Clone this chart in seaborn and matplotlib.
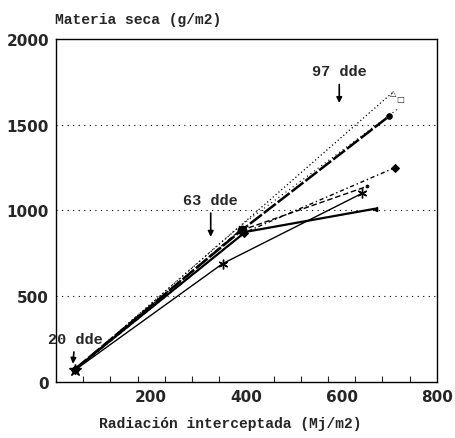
import numpy as np
import pandas as pd
import matplotlib
matplotlib.use('Agg')
import matplotlib.pyplot as plt
import seaborn as sns

# Data (radiacion interceptada, materia seca)
radiacion_a = [40, 385, 708]
materia_a = [70, 905, 1690]
radiacion_b = [40, 380, 722]
materia_b = [70, 895, 1600]
radiacion_c = [40, 390, 700]
materia_c = [75, 885, 1550]
radiacion_d = [40, 395, 712]
materia_d = [70, 870, 1250]
radiacion_e = [40, 385, 653]
materia_e = [70, 880, 1140]
radiacion_f = [40, 350, 643]
materia_f = [70, 690, 1100]
radiacion_g = [40, 398, 670]
materia_g = [75, 875, 1010]

x_ticks = [200, 400, 600, 800]
y_ticks = [0, 500, 1000, 1500, 2000]

series = [
    (radiacion_a, materia_a, (0, (1, 2)), 'none', 0.9),
    (radiacion_b, materia_b, (0, (1, 3)), 'none', 0.8),
    (radiacion_c, materia_c, (0, (6, 1)), 'o', 1.8),
    (radiacion_d, materia_d, (0, (3, 2, 1, 2)), 'D', 1.0),
    (radiacion_e, materia_e, (0, (4, 2)), '.', 1.0),
    (radiacion_f, materia_f, '-', 'none', 1.0),
    (radiacion_g, materia_g, '-', 'none', 1.6),
]

sns.set_style('white')
plt.rcParams['font.family'] = ['DejaVu Sans']

fig = plt.figure(figsize=(4.56, 4.39), dpi=100)
ax = fig.add_axes([0.1228, 0.1276, 0.8352, 0.7814])

for xs, ys, ls, mk, lw in series:
    sns.lineplot(x=xs, y=ys, ax=ax, color='black', linestyle=ls, linewidth=lw,
                 marker=mk, markersize=4, markeredgecolor='black', sort=False)

# end markers drawn as text glyphs
ax.text(radiacion_a[-1], materia_a[-1], '\u25b3', fontsize=6, ha='center', va='center')
ax.text(radiacion_b[-1], materia_b[-1] + 50, '\u25a1', fontsize=6, ha='center', va='center')
ax.plot(radiacion_f[1:], materia_f[1:], linestyle='none', marker=(6, 2, 0), color='black', markersize=7)
ax.plot(radiacion_g[-1], materia_g[-1], linestyle='none', marker='<', color='black', markersize=3)
ax.plot(radiacion_a[0], materia_a[0], linestyle='none', marker='*', color='black', markersize=9)
ax.plot(radiacion_c[1], materia_c[1], linestyle='none', marker='o', color='black', markersize=6)

ax.set_xlim(0, 800)
ax.set_ylim(0, 2000)
ax.set_xticks(x_ticks)
ax.set_yticks(y_ticks)
ax.set_xticks(np.linspace(0, 800, 15)[1:-1], minor=True)
ax.tick_params(axis='both', which='major', length=0, labelsize=11, pad=5)
ax.tick_params(axis='x', which='minor', direction='in', length=4, width=0.8, bottom=True)
for lab in ax.get_xticklabels() + ax.get_yticklabels():
    lab.set_fontweight('bold')

for v in [500, 1000, 1500]:
    ax.axhline(v, color='black', linestyle=(0, (1, 4)), linewidth=0.8, zorder=0)

for s in ax.spines.values():
    s.set_color('black')
    s.set_linewidth(1.0)

mono = ['Liberation Mono', 'DejaVu Sans Mono']
ax.set_xlabel('Radiación interceptada (Mj/m2)', fontsize=10.5, fontweight='bold',
              family=mono)
ax.xaxis.set_label_coords(0.457, -0.1)
fig.text(0.12, 0.945, 'Materia seca (g/m2)', fontsize=10.5, fontweight='bold', family=mono)

arrow = dict(arrowstyle='-|>', color='black', lw=1.2, mutation_scale=8)
ax.annotate('97 dde', xy=(595, 1610), xytext=(595, 1770), ha='center', va='bottom',
            fontsize=11, fontweight='bold', family=mono, arrowprops=arrow)
ax.annotate('63 dde', xy=(325, 830), xytext=(325, 1020), ha='center', va='bottom',
            fontsize=11, fontweight='bold', family=mono, arrowprops=arrow)
ax.annotate('20 dde', xy=(35, 90), xytext=(40, 210), ha='center', va='bottom',
            fontsize=11, fontweight='bold', family=mono, arrowprops=arrow)

fig.savefig('out.png', dpi=100)
